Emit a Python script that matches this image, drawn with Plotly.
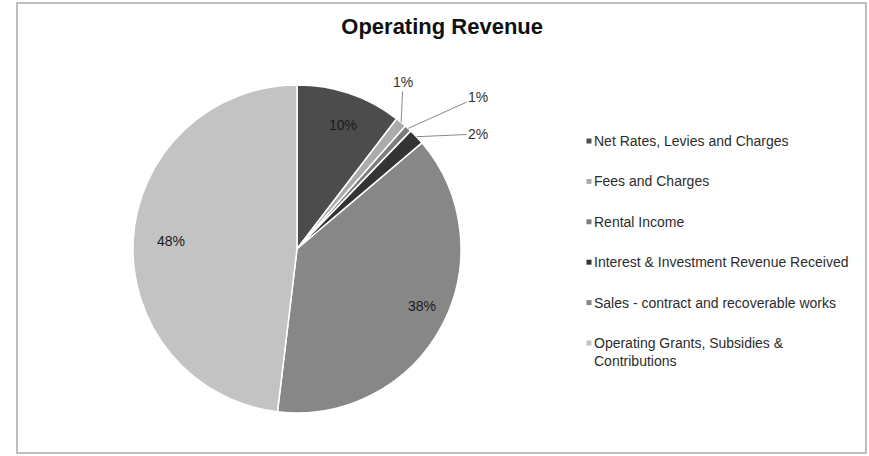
import math
import plotly.graph_objects as go

# Operating revenue shares (percent of total)
categories = [
    "Net Rates, Levies and Charges",
    "Fees and Charges",
    "Rental Income",
    "Interest & Investment Revenue Received",
    "Sales - contract and recoverable works",
    "Operating Grants, Subsidies & Contributions",
]
values = [10.4, 1.1, 0.7, 1.6, 38.1, 48.1]
colors = ["#4c4c4c", "#ababab", "#7d7d7d", "#343434", "#878787", "#c3c3c3"]
legend_labels = [
    "Net Rates, Levies and Charges",
    "Fees and Charges",
    "Rental Income",
    "Interest & Investment Revenue Received",
    "Sales - contract and recoverable works",
    "Operating Grants, Subsidies &<br>Contributions",
]

W, H = 869, 456
FONT = "Liberation Sans, Arial, sans-serif"

# pie geometry in pixels
CX, CY, R = 297, 249, 164
INSIDE_FRAC = 0.865
# label anchor (pixels) for the thin slices, None = inside label
outside_pos = [None, (403, 82), (478, 97), (478, 134), None, None]


def px(x):
    return x / W


def py(y):
    return 1 - y / H


fig = go.Figure(
    go.Pie(
        labels=categories,
        values=values,
        sort=False,
        direction="clockwise",
        rotation=0,
        marker=dict(colors=colors, line=dict(color="white", width=1.5)),
        textinfo="none",
        hoverinfo="label+percent",
        showlegend=False,
        domain=dict(x=[px(CX - R), px(CX + R)], y=[py(CY + R), py(CY - R)]),
    )
)

annotations = []
total = sum(values)
cum = 0.0
for v, pos in zip(values, outside_pos):
    mid = (cum + v / 2) / total * 2 * math.pi
    cum += v
    label = f"{round(v / total * 100)}%"
    if pos is None:
        lx = CX + INSIDE_FRAC * R * math.sin(mid)
        ly = CY - INSIDE_FRAC * R * math.cos(mid)
        annotations.append(dict(
            x=px(lx), y=py(ly), xref="paper", yref="paper", text=label,
            showarrow=False, font=dict(family=FONT, size=14, color="#1a1a1a"),
        ))
    else:
        ex = CX + R * math.sin(mid)
        ey = CY - R * math.cos(mid)
        annotations.append(dict(
            x=px(ex), y=py(ey), xref="paper", yref="paper", text=label,
            showarrow=True, arrowhead=0, arrowwidth=1, arrowcolor="#8a8a8a",
            standoff=0, ax=pos[0] - ex, ay=pos[1] - ey,
            font=dict(family=FONT, size=14, color="#333333"),
        ))

# legend drawn as swatches + text
LEG_X, LEG_TOP, LEG_STEP, SW = 589, 141, 40.4, 5
shapes = [
    dict(type="rect", xref="paper", yref="paper",
         x0=px(17), x1=px(866), y0=py(453), y1=py(3),
         line=dict(color="#a9a9a9", width=1.5), fillcolor="rgba(0,0,0,0)"),
]
for i, (lab, col) in enumerate(zip(legend_labels, colors)):
    yy = LEG_TOP + i * LEG_STEP
    shapes.append(dict(type="rect", xref="paper", yref="paper",
                       x0=px(LEG_X - SW / 2), x1=px(LEG_X + SW / 2),
                       y0=py(yy + SW / 2), y1=py(yy - SW / 2),
                       line=dict(width=0), fillcolor=col))
    annotations.append(dict(
        x=px(LEG_X + 3), y=py(yy - 10), xref="paper", yref="paper",
        xanchor="left", yanchor="top", align="left", text=lab, showarrow=False,
        font=dict(family=FONT, size=14, color="#2c2c2c"),
    ))

fig.update_layout(
    width=W, height=H,
    margin=dict(l=0, r=0, t=0, b=0),
    paper_bgcolor="white", plot_bgcolor="white",
    title=dict(text="<b>Operating Revenue</b>", x=0.5088, xanchor="center",
               y=py(26), yanchor="middle",
               font=dict(family=FONT, size=22, color="#111111")),
    annotations=annotations,
    shapes=shapes,
)

fig.write_html("out.html")
